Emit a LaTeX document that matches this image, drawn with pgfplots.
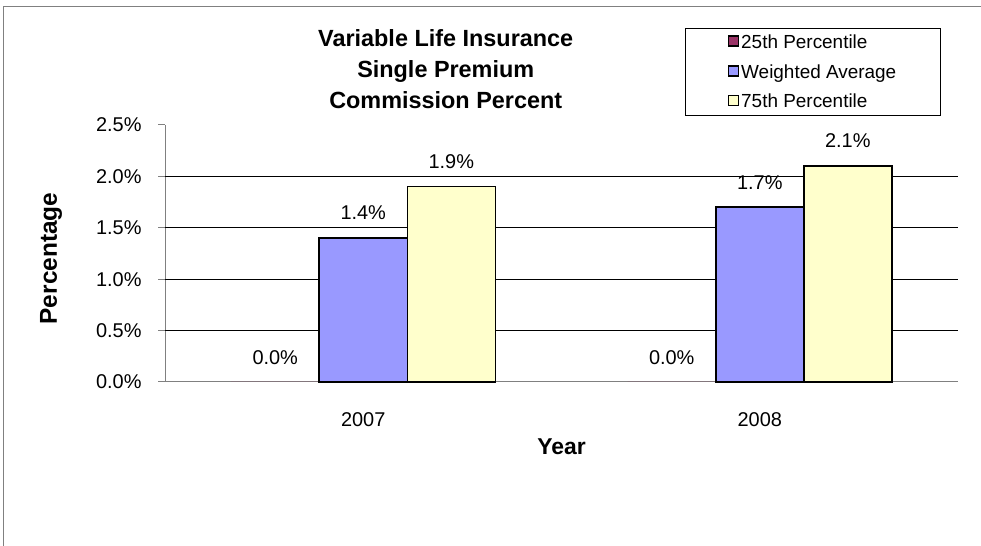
\documentclass[border=0pt]{standalone}
\usepackage{pgfplots}
\pgfplotsset{compat=1.18}
\usepackage{fontspec}
\setmainfont{Liberation Sans}
\definecolor{pA}{HTML}{993366}
\definecolor{pB}{HTML}{9999FF}
\definecolor{pC}{HTML}{FFFFCC}
\definecolor{axgray}{HTML}{808080}
\begin{document}
\begin{tikzpicture}[x=1bp,y=1bp]
\path[use as bounding box] (0,0) rectangle (981,546);
\draw[axgray, line width=1bp] (3,0) -- (3,539) -- (981,539);
\begin{axis}[
  at={(165bp,164bp)}, anchor=south west,
  scale only axis, width=793bp, height=257bp,
  xmin=-0.5, xmax=1.5, ymin=0, ymax=2.5,
  axis x line*=bottom, axis y line*=left,
  axis line style={axgray, line width=1bp},
  tick align=outside, major tick length=7bp,
  tick style={axgray, line width=1bp},
  xtick={0,1}, xticklabels={2007,2008},
  x tick style={draw=none},
  extra x ticks={-0.5,0.5,1.5}, extra x tick labels={},
  extra x tick style={tick style={axgray, line width=1bp}},
  ytick={0,0.5,1,1.5,2,2.5},
  yticklabels={0.0\%,0.5\%,1.0\%,1.5\%,2.0\%,2.5\%},
  extra y ticks={0.5,1,1.5,2}, extra y tick labels={},
  extra y tick style={ymajorgrids=true, major tick length=0pt},
  major grid style={black, line width=0.8bp},
  ticklabel style={font=\fontsize{20}{22}\selectfont},
  yticklabel style={xshift=-13bp},
  xticklabel style={yshift=-20bp},
  xlabel={Year}, ylabel={Percentage},
  xlabel style={at={(rel axis cs:0.5,0)}, anchor=center, yshift=-65bp, font=\bfseries\fontsize{23}{26}\selectfont},
  ylabel style={at={(rel axis cs:0,0.5)}, anchor=center, yshift=114bp, xshift=-5bp, font=\bfseries\fontsize{24.5}{26}\selectfont},
  title={Variable Life Insurance\\Single Premium\\Commission Percent},
  title style={at={(0.354,1.195)}, anchor=center, align=center, font=\bfseries\fontsize{23.5}{31}\selectfont},
  ybar=0pt, bar width=0.222,
  /pgf/number format/assume math mode=true,
  nodes near coords={\pgfmathprintnumber[fixed,fixed zerofill,precision=1,assume math mode=true]{\pgfplotspointmeta}\%},
  every node near coord/.append style={font=\fontsize{20}{22}\selectfont, yshift=14bp},
  legend style={at={(0.656,1.377)}, anchor=north west, draw=black, line width=1bp,
     font=\fontsize{19}{22}\selectfont, inner xsep=42bp, inner ysep=4bp, row sep=10.5bp},
  legend cell align=left,
  legend image code/.code={\draw[#1, draw=black, line width=1.5bp] (0bp,-4bp) rectangle (10bp,6bp);},
  clip=false,
]
\addplot[fill=pA, draw=none, bar shift=-0.222] coordinates {(0,0) (1,0)};
\addplot[fill=pB, draw=black, line width=1.5bp, bar shift=0] coordinates {(0,1.4) (1,1.7)};
\addplot[fill=pC, draw=black, line width=1.5bp, bar shift=0.222] coordinates {(0,1.9) (1,2.1)};
\legend{25th Percentile, Weighted Average, 75th Percentile}
\end{axis}
\end{tikzpicture}
\end{document}
